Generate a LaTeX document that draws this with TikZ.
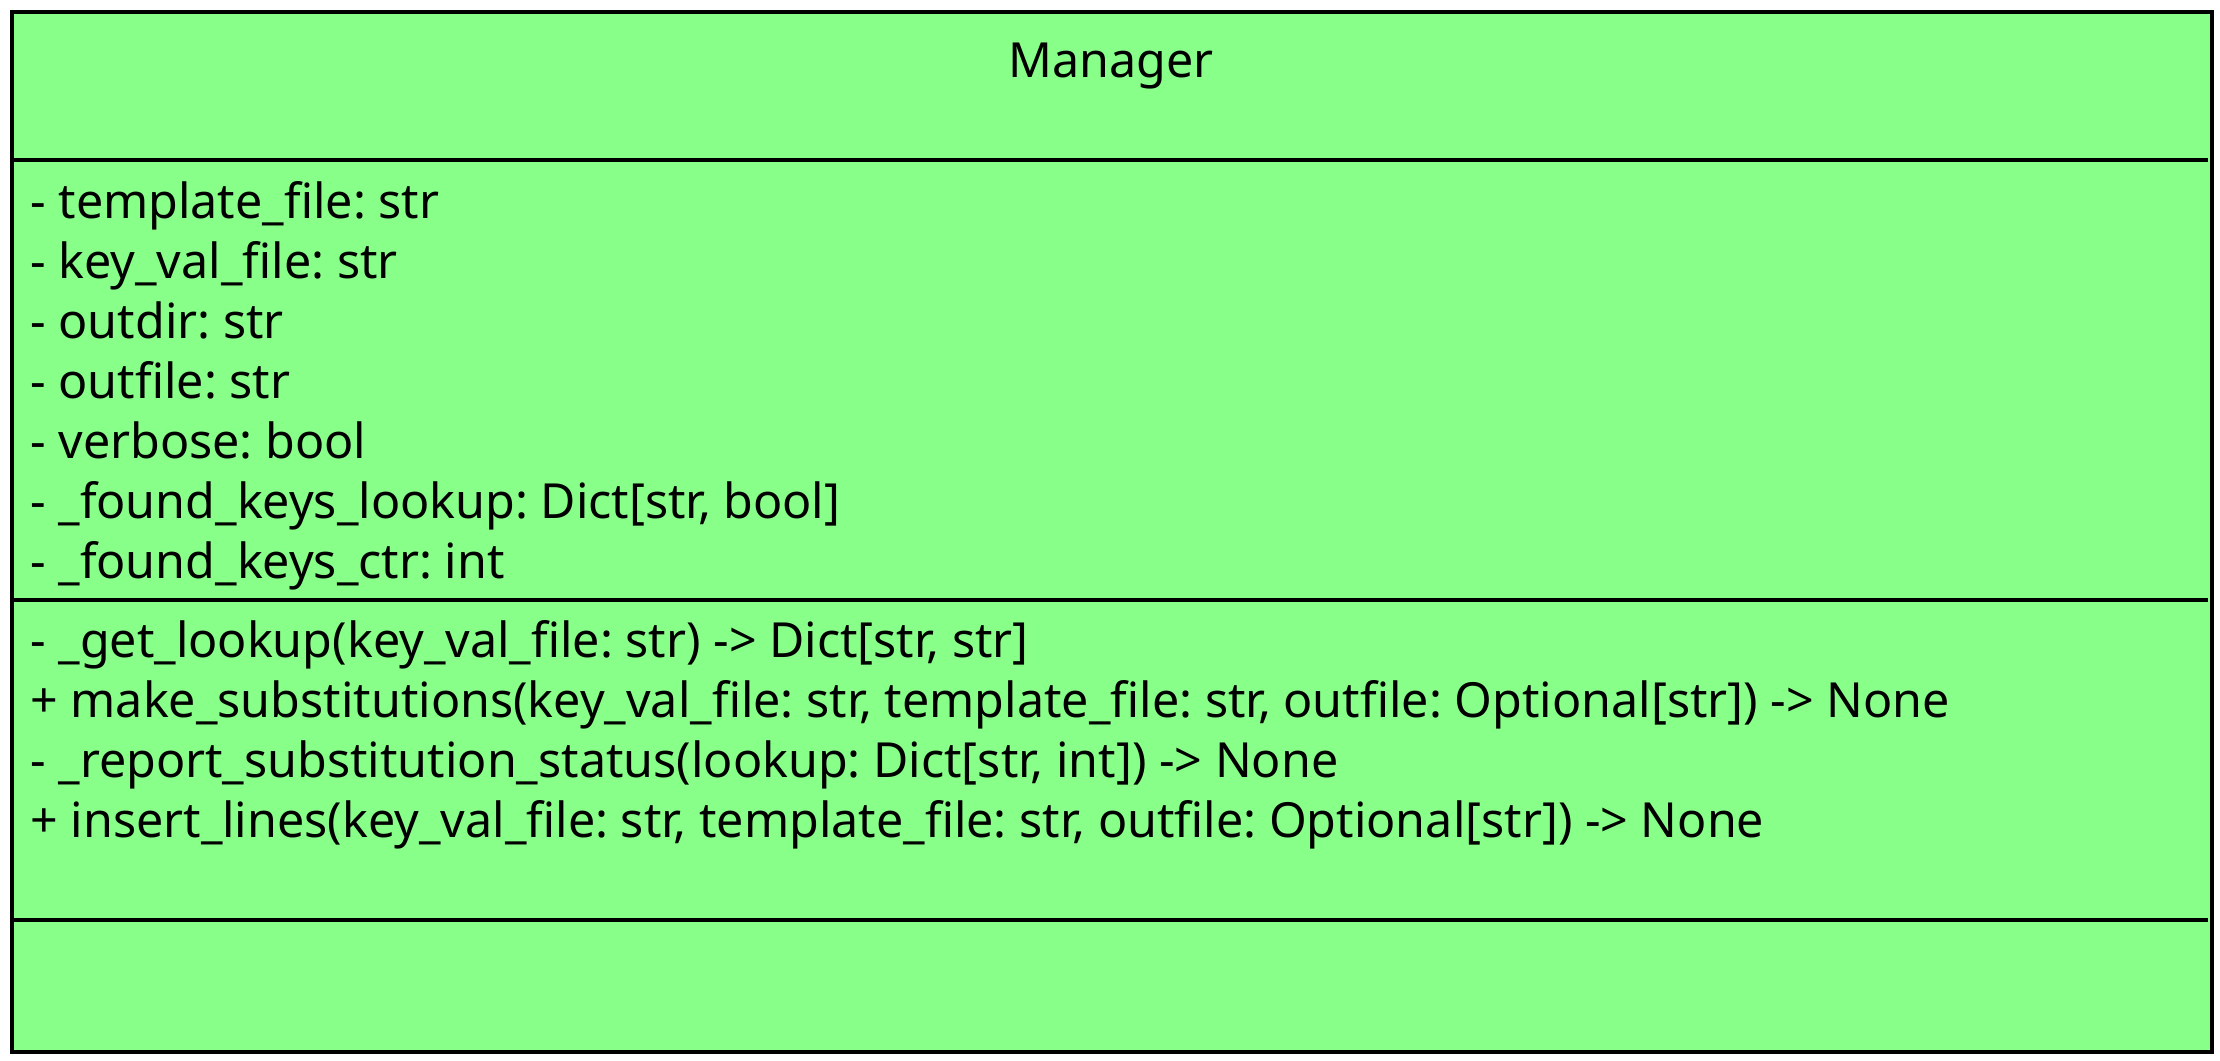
\documentclass[tikz,border=0pt]{standalone}
\usepackage{fontspec}
\setmainfont{Noto Sans}
\frenchspacing
\definecolor{classgreen}{HTML}{88FF88}
\tikzset{
    member/.style={anchor=base west, inner sep=0pt, font=\fontsize{24.2}{28}\selectfont},
    title/.style={anchor=base, inner sep=0pt, font=\fontsize{24.2}{28}\selectfont}
}
\begin{document}
\begin{tikzpicture}[x=0.5pt, y=-0.5pt]
        \useasboundingbox (0, 0) rectangle (2220, 1060);
        \draw [line width=2pt, fill=classgreen] (12, 12) rectangle (2212, 1052);
        \draw [line width=2pt] (12, 160) -- (2208, 160);
        \draw [line width=2pt] (12, 600) -- (2208, 600);
        \draw [line width=2pt] (12, 920) -- (2208, 920);
        \node [title] (Name) at (1111, 77) {Manager};
        \node [member] (A1) at (30, 218) {- template\_file: str};
        \node [member] (A2) at (30, 278) {- key\_val\_file: str};
        \node [member] (A3) at (30, 338) {- outdir: str};
        \node [member] (A4) at (30, 398) {- outfile: str};
        \node [member] (A5) at (30, 458) {- verbose: bool};
        \node [member] (A6) at (30, 518) {- \_found\_keys\_lookup: Dict[str, bool]};
        \node [member] (A7) at (30, 578) {- \_found\_keys\_ctr: int};
        \node [member] (M1) at (30, 657) {- \_get\_lookup(key\_val\_file: str) -> Dict[str, str]};
        \node [member] (M2) at (30, 717) {+ make\_substitutions(key\_val\_file: str, template\_file: str, outfile: Optional[str]) -> None};
        \node [member] (M3) at (30, 777) {- \_report\_substitution\_status(lookup: Dict[str, int]) -> None};
        \node [member] (M4) at (30, 837) {+ insert\_lines(key\_val\_file: str, template\_file: str, outfile: Optional[str]) -> None};
    \end{tikzpicture}
\end{document}
